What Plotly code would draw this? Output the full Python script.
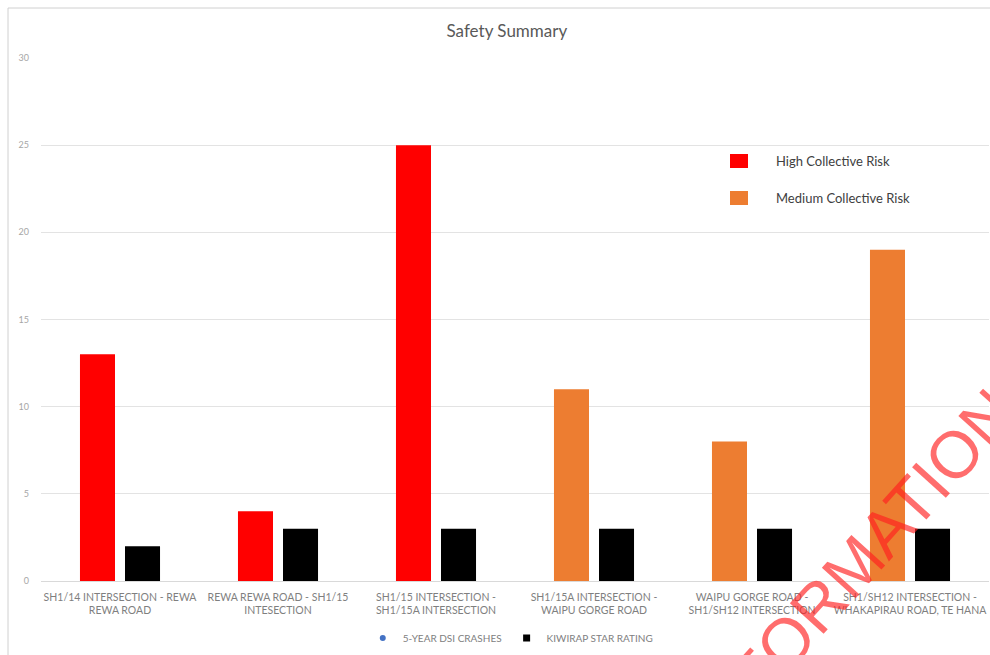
import plotly.graph_objects as go

categories = [
    "SH1/14 INTERSECTION - REWA<br>REWA ROAD",
    "REWA REWA ROAD - SH1/15<br>INTESECTION",
    "SH1/15 INTERSECTION -<br>SH1/15A INTERSECTION",
    "SH1/15A INTERSECTION -<br>WAIPU GORGE ROAD",
    "WAIPU GORGE ROAD -<br>SH1/SH12 INTERSECTION",
    "SH1/SH12 INTERSECTION -<br>WHAKAPIRAU ROAD, TE HANA",
]
dsi_crashes = [13, 4, 25, 11, 8, 19]
star_rating = [2, 3, 3, 3, 3, 3]
risk_level = ["High", "High", "High", "Medium", "Medium", "Medium"]
risk_colors = {"High": "#FF0000", "Medium": "#ED7D31"}
y_ticks = [0, 5, 10, 15, 20, 25, 30]

FONT = "Lato, 'Open Sans', sans-serif"

fig = go.Figure()
fig.add_trace(go.Bar(
    x=categories, y=dsi_crashes, name="5-YEAR DSI CRASHES",
    marker=dict(color=[risk_colors[r] for r in risk_level], line=dict(width=0)),
    showlegend=False,
))
fig.add_trace(go.Bar(
    x=categories, y=star_rating, name="KIWIRAP STAR RATING",
    marker=dict(color="#000000", line=dict(width=0)),
    showlegend=False,
))
# legend-only entries
fig.add_trace(go.Scatter(
    x=[None], y=[None], mode="markers", name="5-YEAR DSI CRASHES",
    marker=dict(symbol="circle", color="#4472C4", size=6),
))
fig.add_trace(go.Scatter(
    x=[None], y=[None], mode="markers", name="KIWIRAP STAR RATING",
    marker=dict(symbol="square", color="#000000", size=7),
))

fig.update_layout(
    width=990, height=655,
    margin=dict(l=41, r=1, t=58, b=74),
    paper_bgcolor="white", plot_bgcolor="white",
    barmode="group", bargap=0.43, bargroupgap=0.222,
    font=dict(family=FONT, color="#7f7f7f"),
    title=dict(text="Safety Summary", x=0.512, xanchor="center", y=1 - 31 / 655,
               yanchor="middle", font=dict(size=17, color="#595959", family=FONT)),
    xaxis=dict(
        showgrid=False, showline=True, linecolor="#d9d9d9", linewidth=1,
        ticks="", tickfont=dict(size=10.5, color="#7f7f7f", family=FONT),
        tickangle=0, ticklabelstandoff=6,
    ),
    yaxis=dict(
        range=[0, 30], tickvals=y_ticks, showgrid=True, gridcolor="#e3e3e3",
        gridwidth=1, zeroline=False, showline=False, ticks="",
        tickfont=dict(size=9, color="#a6a6a6", family=FONT), ticklabelstandoff=11,
    ),
    legend=dict(
        orientation="h", x=0.495, xanchor="center", y=-0.109, yanchor="middle",
        font=dict(size=10, color="#808080", family=FONT),
        itemwidth=30, tracegroupgap=0,
    ),
)

# Manual risk legend (upper right)
px_x = lambda p: (p - 41) / 948
px_y = lambda p: (581 - p) / 523
legend_items = [("High Collective Risk", "High", 161), ("Medium Collective Risk", "Medium", 198)]
for label, lvl, py in legend_items:
    fig.add_shape(type="rect", xref="paper", yref="paper",
                  x0=px_x(730), x1=px_x(748), y0=px_y(py + 7), y1=px_y(py - 7),
                  fillcolor=risk_colors[lvl], line=dict(width=0))
    fig.add_annotation(text=label, xref="paper", yref="paper", x=px_x(774), y=px_y(py),
                       xanchor="left", yanchor="middle", showarrow=False,
                       font=dict(size=13, color="#404040", family=FONT))

# Frame lines
fig.add_shape(type="line", xref="paper", yref="paper", x0=px_x(8), x1=px_x(990),
              y0=px_y(8), y1=px_y(8), line=dict(color="#d0d0d0", width=1))
fig.add_shape(type="line", xref="paper", yref="paper", x0=px_x(8), x1=px_x(8),
              y0=px_y(8), y1=px_y(655), line=dict(color="#d0d0d0", width=1))

# Watermark
fig.add_annotation(text="INFORMATION", xref="paper", yref="paper",
                   x=px_x(850), y=px_y(570), xanchor="center", yanchor="middle",
                   showarrow=False, textangle=-48,
                   font=dict(size=66, color="rgba(255,30,30,0.65)", family="Liberation Sans"))

fig.write_html("out.html")
